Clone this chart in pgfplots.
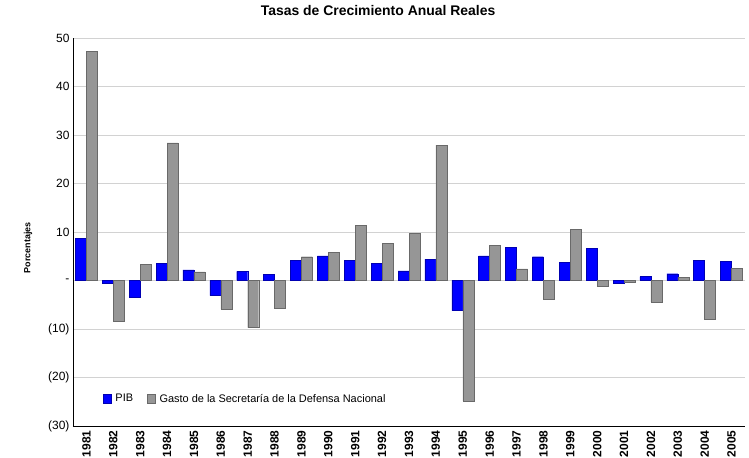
\documentclass[border=0pt]{standalone}
\usepackage{fontspec}
\setmainfont{Liberation Sans}
\usepackage{pgfplots}
\usepackage{pgfplotstable}
\pgfplotsset{compat=1.18}
\definecolor{pibblue}{RGB}{0,0,255}
\definecolor{gastogray}{RGB}{150,150,150}

% idx anio pib gasto
\pgfplotstableread{
idx anio pib gasto
0  1981  8.7  47.2
1  1982 -0.6  -8.3
2  1983 -3.5   3.3
3  1984  3.6  28.4
4  1985  2.2   1.8
5  1986 -3.1  -5.9
6  1987  1.9  -9.7
7  1988  1.2  -5.8
8  1989  4.2   4.9
9  1990  5.1   5.8
10 1991  4.2  11.4
11 1992  3.6   7.7
12 1993  2.0   9.7
13 1994  4.4  27.9
14 1995 -6.2 -24.8
15 1996  5.1   7.3
16 1997  6.8   2.4
17 1998  4.9  -3.9
18 1999  3.7  10.5
19 2000  6.6  -1.2
20 2001 -0.5  -0.3
21 2002  0.8  -4.4
22 2003  1.4   0.7
23 2004  4.2  -8.0
24 2005  3.9   2.5
}\datos

\begin{document}
\begin{tikzpicture}
\useasboundingbox (-73bp,-32bp) rectangle (676bp,426bp);
\begin{axis}[
    scale only axis,
    width=672bp,
    height=388bp,
    ybar=0pt,
    bar width=11bp,
    xmin=-0.5, xmax=24.5,
    ymin=-30, ymax=50,
    xtick=data,
    xticklabels={1981,1982,1983,1984,1985,1986,1987,1988,1989,1990,1991,1992,1993,1994,1995,1996,1997,1998,1999,2000,2001,2002,2003,2004,2005},
    xticklabel style={rotate=90, anchor=east, font=\bfseries\fontsize{12}{12}\selectfont, xshift=-1bp},
    ytick={-30,-20,-10,0,10,20,30,40,50},
    yticklabels={(30),(20),(10),-,10,20,30,40,50},
    yticklabel style={font=\fontsize{12}{12}\selectfont},
    /pgf/number format/assume math mode=true,
    major tick length=0pt,
    axis lines*=left,
    axis line style={black, line width=1pt},
    ymajorgrids=true,
    grid style={gray!35, line width=0.8pt},
    title={Tasas de Crecimiento Anual Reales},
    title style={font=\bfseries\fontsize{14}{14}\selectfont, at={(axis description cs:0.454,1)}, anchor=center, yshift=22bp},
    ylabel={Porcentajes},
    ylabel style={font=\bfseries\fontsize{9}{9}\selectfont, at={(axis description cs:-0.067,0.459)}, anchor=center},
    legend style={draw=none, fill=none, at={(axis description cs:0.04,0.07)}, anchor=west,
        font=\fontsize{11}{11}\selectfont, legend columns=2,
        /tikz/every even column/.append style={column sep=12bp},
        /tikz/every odd column/.append style={column sep=2bp}},
    legend image code/.code={\fill[#1] (0bp,-4.5bp) rectangle (8bp,4.5bp);},
]
\addplot[fill=pibblue, draw=pibblue!70!black, line width=0.4pt] table[x=idx, y=pib] {\datos};
\addplot[fill=gastogray, draw=gastogray!70!black, line width=0.4pt] table[x=idx, y=gasto] {\datos};
\legend{PIB, Gasto de la Secretaría de la Defensa Nacional}
\end{axis}
\end{tikzpicture}
\end{document}
